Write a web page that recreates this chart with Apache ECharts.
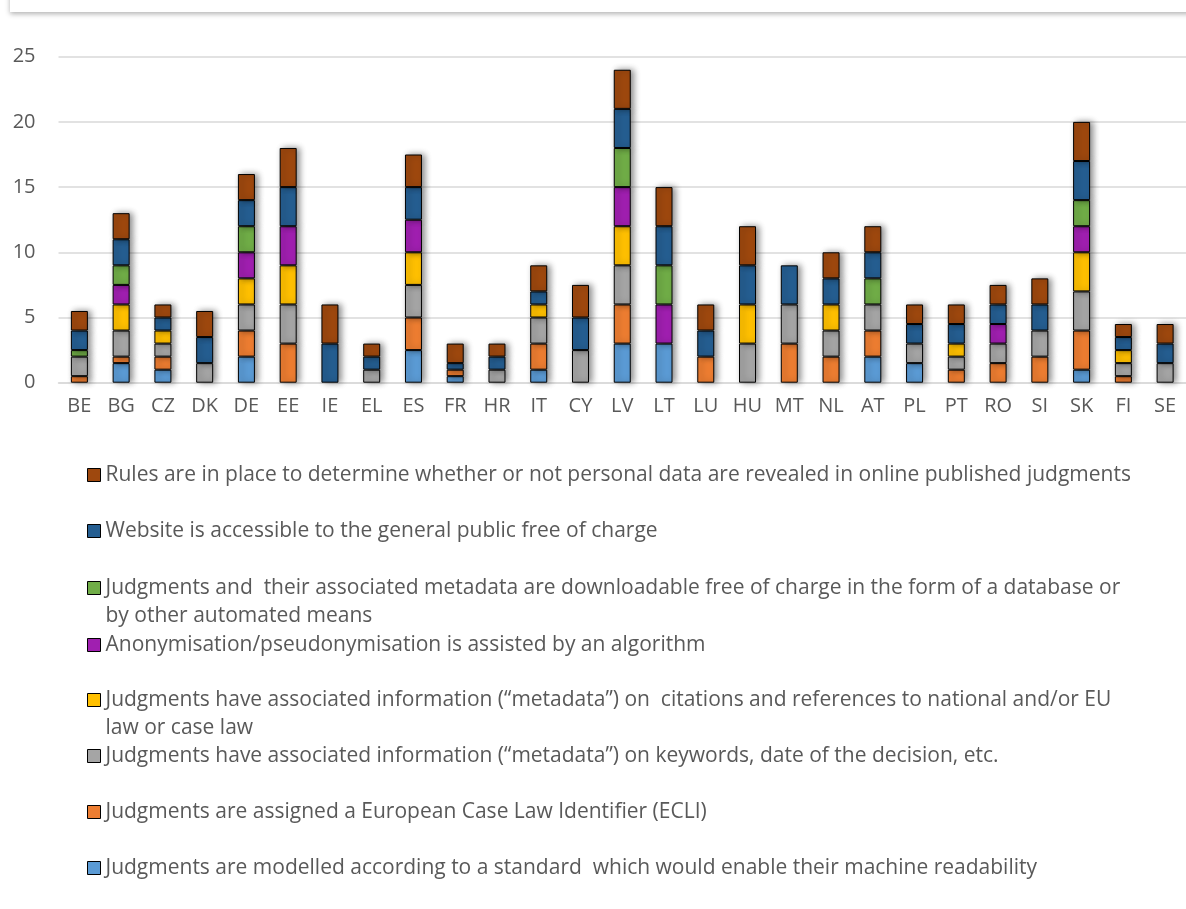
<!DOCTYPE html>
<html>
<head>
<meta charset="utf-8">
<script src="https://cdn.jsdelivr.net/npm/echarts@6/dist/echarts.min.js"></script>
<style>
html,body{margin:0;padding:0;background:#fff;}
#chart{width:1186px;height:909px;}
</style>
</head>
<body>
<div id="chart"></div>
<script>
const countries = ['BE','BG','CZ','DK','DE','EE','IE','EL','ES','FR','HR','IT','CY','LV','LT','LU','HU','MT','NL','AT','PL','PT','RO','SI','SK','FI','SE'];

const machineReadable = [0,1.5,1,0,2,0,0,0,2.5,0.5,0,1,0,3,3,0,0,0,0,2,1.5,0,0,0,1,0,0];
const ecli           = [0.5,0.5,1,0,2,3,0,0,2.5,0.5,0,2,0,3,0,2,0,3,2,2,0,1,1.5,2,3,0.5,0];
const keywords       = [1.5,2,1,1.5,2,3,0,1,2.5,0,1,2,2.5,3,0,0,3,3,2,2,1.5,1,1.5,2,3,1,1.5];
const citations      = [0,2,1,0,2,3,0,0,2.5,0,0,1,0,3,0,0,3,0,2,0,0,1,0,0,3,1,0];
const anonymisation  = [0,1.5,0,0,2,3,0,0,2.5,0,0,0,0,3,3,0,0,0,0,0,0,0,1.5,0,2,0,0];
const downloadable   = [0.5,1.5,0,0,2,0,0,0,0,0,0,0,0,3,3,0,0,0,0,2,0,0,0,0,2,0,0];
const website        = [1.5,2,1,2,2,3,3,1,2.5,0.5,1,1,2.5,3,3,2,3,3,2,2,1.5,1.5,1.5,2,3,1,1.5];
const rules          = [1.5,2,1,2,2,3,3,1,2.5,1.5,1,2,2.5,3,3,2,3,0,2,2,1.5,1.5,1.5,2,3,1,1.5];

const yTicks = [0,5,10,15,20,25];

const seriesNames = [
  'Judgments are modelled according to a standard  which would enable their machine readability',
  'Judgments are assigned a European Case Law Identifier (ECLI)',
  'Judgments have associated information (“metadata”) on keywords, date of the decision, etc.',
  'Judgments have associated information (“metadata”) on  citations and references to national and/or EU law or case law',
  'Anonymisation/pseudonymisation is assisted by an algorithm',
  'Judgments and  their associated metadata are downloadable free of charge in the form of a database or by other automated means',
  'Website is accessible to the general public free of charge',
  'Rules are in place to determine whether or not personal data are revealed in online published judgments'
];
const legendLines = [
  ['Judgments are modelled according to a standard  which would enable their machine readability'],
  ['Judgments are assigned a European Case Law Identifier (ECLI)'],
  ['Judgments have associated information (“metadata”) on keywords, date of the decision, etc.'],
  ['Judgments have associated information (“metadata”) on  citations and references to national and/or EU', 'law or case law'],
  ['Anonymisation/pseudonymisation is assisted by an algorithm'],
  ['Judgments and  their associated metadata are downloadable free of charge in the form of a database or', 'by other automated means'],
  ['Website is accessible to the general public free of charge'],
  ['Rules are in place to determine whether or not personal data are revealed in online published judgments']
];
const seriesValues = [machineReadable, ecli, keywords, citations, anonymisation, downloadable, website, rules];
const colors = ['#5B9BD5','#ED7D31','#A5A5A5','#FFC000','#A01FB0','#70AD47','#255E91','#9E480E'];

const FONT = 'Open Sans';
const TXT = '#595959';

// legend icon centres, bottom series first
const legendCentres = [868, 812, 756, 700, 645, 588, 531, 475];

const legends = seriesNames.map((name, i) => {
  const lines = legendLines[i];
  const twoLine = lines.length > 1;
  // a blank leading line keeps the first text line level with the icon
  const label = twoLine ? ' \n' + lines.join('\n') : lines[0];
  return {
    orient: 'vertical',
    left: 87,
    top: legendCentres[i] - (twoLine ? 42 : 14),
    padding: 0,
    itemWidth: 13,
    itemHeight: 13,
    icon: 'rect',
    selectedMode: false,
    data: [name],
    formatter: () => label,
    itemStyle: {borderColor: '#000', borderWidth: 1, shadowBlur: 0},
    textStyle: {fontFamily: FONT, fontSize: 21, color: TXT, lineHeight: 28}
  };
});

const series = seriesNames.map((name, i) => ({
  name: name,
  type: 'bar',
  stack: 'total',
  barWidth: 17,
  data: seriesValues[i].map(v => v === 0 ? '-' : v),
  itemStyle: {
    color: colors[i],
    borderColor: '#000',
    borderWidth: 1,
    shadowBlur: 6,
    shadowOffsetX: 3,
    shadowOffsetY: 0,
    shadowColor: 'rgba(0,0,0,0.45)'
  },
  emphasis: {disabled: true}
}));

const chart = echarts.init(document.getElementById('chart'), null, {renderer: 'canvas'});
chart.setOption({
  animation: false,
  backgroundColor: '#fff',
  grid: {left: 58.5, right: -6.5, top: 56.7, bottom: 526.3, containLabel: false},
  legend: legends,
  graphic: [{
    type: 'rect',
    shape: {x: 10, y: -30, width: 1200, height: 42},
    style: {fill: '#fff', shadowBlur: 5, shadowOffsetY: 2, shadowColor: 'rgba(0,0,0,0.3)'},
    silent: true
  }],
  xAxis: {
    type: 'category',
    data: countries,
    axisTick: {show: false},
    axisLine: {lineStyle: {color: '#D9D9D9', width: 1.5}},
    axisLabel: {fontFamily: FONT, fontSize: 20, color: TXT, margin: 14, interval: 0}
  },
  yAxis: {
    type: 'value',
    min: yTicks[0],
    max: yTicks[yTicks.length - 1],
    interval: yTicks[1] - yTicks[0],
    axisLine: {show: false},
    axisTick: {show: false},
    splitLine: {lineStyle: {color: '#D9D9D9', width: 1.5}},
    axisLabel: {fontFamily: FONT, fontSize: 20, color: TXT, margin: 23}
  },
  series: series
});
</script>
</body>
</html>
